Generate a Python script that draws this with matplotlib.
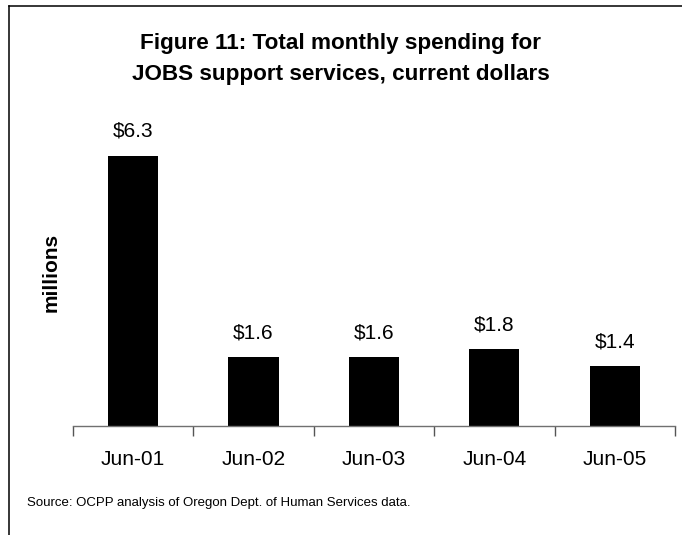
import numpy as np
import matplotlib
matplotlib.use("Agg")
import matplotlib.pyplot as plt
from matplotlib.lines import Line2D

months = ["Jun-01", "Jun-02", "Jun-03", "Jun-04", "Jun-05"]
spending = [6.3, 1.6, 1.6, 1.8, 1.4]  # millions of dollars
value_labels = ["$6.3", "$1.6", "$1.6", "$1.8", "$1.4"]

plt.rcParams.update({
    'font.family': ['Liberation Sans', 'DejaVu Sans'],
})

W, H = 682, 535
fig = plt.figure(figsize=(W / 100, H / 100), dpi=100)
ax = fig.add_axes([72.7 / W, 109 / H, 602.3 / W, 300.3 / H])

x = np.arange(len(months))
ax.bar(x, spending, width=0.418, color='black')
ax.set_xlim(-0.5, len(months) - 0.5)
ax.set_ylim(0, 7)

for xi, v, lab in zip(x, spending, value_labels):
    ax.annotate(lab, (xi, v), xytext=(0, 13.5), textcoords='offset points',
                ha='center', va='baseline', fontsize=15)

# excel-style category axis: ticks between categories, labels centred
for side in ['left', 'top', 'right']:
    ax.spines[side].set_visible(False)
ax.spines['bottom'].set_color('#707070')
ax.spines['bottom'].set_linewidth(1.0)
ax.set_yticks([])
ax.set_xticks(np.arange(-0.5, len(months)), labels=[''] * (len(months) + 1))
ax.tick_params(axis='x', which='major', direction='out', length=7, width=1.0, color='#555555')
ax.set_xticks(x, labels=months, minor=True)
ax.tick_params(axis='x', which='minor', length=0, pad=17, labelsize=15)

fig.text(51 / W, 1 - 272 / H, 'millions', rotation=90, ha='center', va='center',
         fontsize=15, fontweight='bold')

fig.text(0.5, 1 - 49 / H, 'Figure 11: Total monthly spending for', ha='center',
         va='baseline', fontsize=16.2, fontweight='bold')
fig.text(0.5, 1 - 80 / H, 'JOBS support services, current dollars', ha='center',
         va='baseline', fontsize=16.2, fontweight='bold')

fig.text(27 / W, 1 - 506 / H, 'Source: OCPP analysis of Oregon Dept. of Human Services data.',
         ha='left', va='baseline', fontsize=9.5)

# frame lines along top and left edge
fig.add_artist(Line2D([8.5 / W, 1], [1 - 5.5 / H, 1 - 5.5 / H], color='black', lw=1.1,
                      transform=fig.transFigure))
fig.add_artist(Line2D([8.5 / W, 8.5 / W], [0, 1 - 5.5 / H], color='black', lw=1.1,
                      transform=fig.transFigure))

fig.savefig('out.png', dpi=100)
